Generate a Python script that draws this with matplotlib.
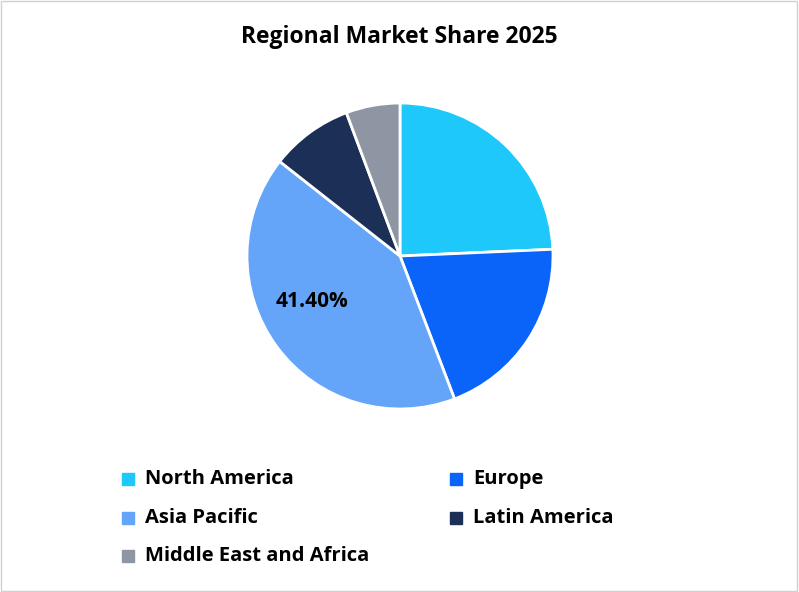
import matplotlib
matplotlib.use("Agg")
import matplotlib.pyplot as plt
from matplotlib.patches import Rectangle

categories = ["North America", "Europe", "Asia Pacific", "Latin America", "Middle East and Africa"]
values = [24.3, 19.9, 41.4, 8.7, 5.7]
colors = ["#1ec8fa", "#0a64fa", "#64a5fa", "#1b2f57", "#8f96a3"]

plt.rcParams['font.family'] = ['Open Sans', 'DejaVu Sans']
fig = plt.figure(figsize=(7.99, 5.92), dpi=100)
ax = fig.add_axes([0, 0, 1, 1])
ax.set_xlim(0, 799); ax.set_ylim(592, 0); ax.axis('off')
fig.patches.append(Rectangle((0.001, 0.001), 0.997, 0.997, transform=fig.transFigure,
                             fill=False, edgecolor='#d0d0d0', linewidth=1))

pax = fig.add_axes([(400-153)/799, 1-(256+153)/592, 306/799, 306/592])
wedges, _ = pax.pie(values, colors=colors, startangle=90, counterclock=False,
                    wedgeprops=dict(edgecolor='white', linewidth=2))
pax.set_xlim(-1, 1); pax.set_ylim(-1, 1)
pax.set_aspect('equal')
idx = 2
pax.text(-0.575, -0.3, f"{values[idx]:.2f}%", ha='center', va='center',
         fontsize=15, fontweight='bold', color='black')

fig.text(0.5, 1-37/592, "Regional Market Share 2025", ha='center', va='center',
         fontsize=16.5, fontweight='bold')

pos = [(122, 479), (450, 479), (122, 518), (450, 518), (122, 556)]
for (x, y), c, name in zip(pos, colors, categories):
    ax.add_patch(Rectangle((x, y-6), 12, 12, color=c))
    ax.text(x+23, y, name, va='center', ha='left', fontsize=14.5, fontweight='bold')

fig.savefig("out.png", dpi=100)
